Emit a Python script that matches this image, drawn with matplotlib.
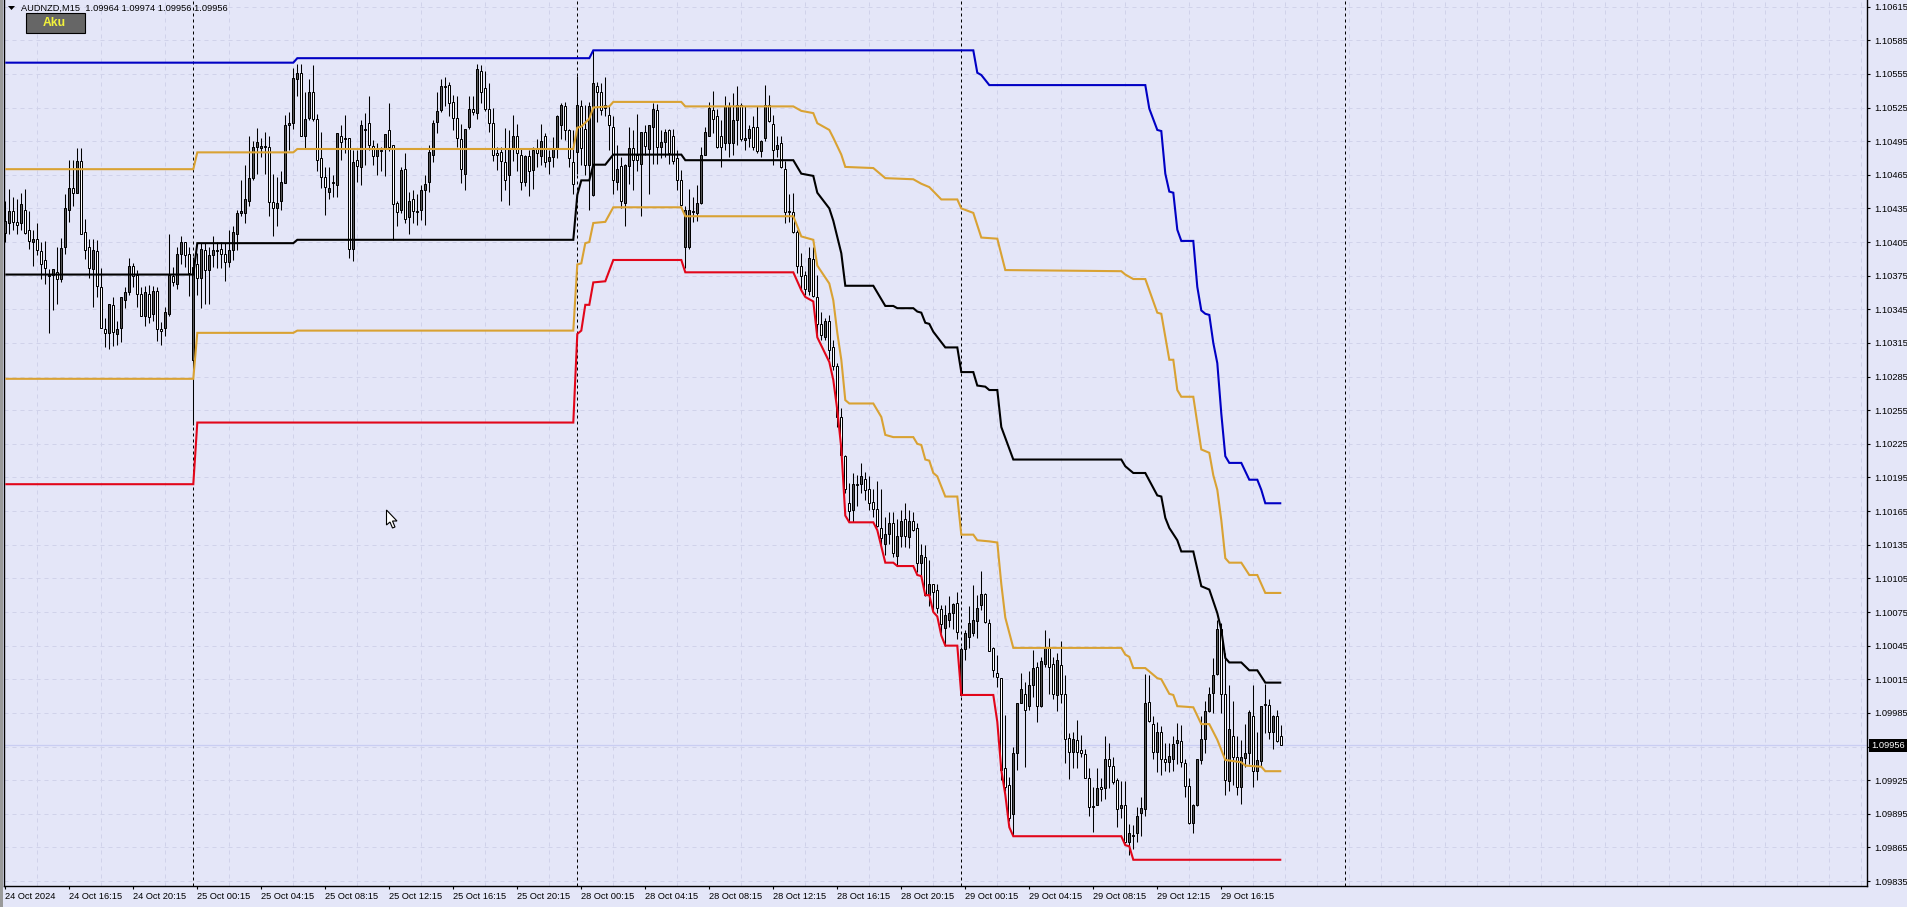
import numpy as np
import matplotlib
matplotlib.use('Agg')
import matplotlib.pyplot as plt
from matplotlib.patches import Rectangle, Polygon
from matplotlib.ticker import FixedLocator, FormatStrFormatter

plt.rcParams['font.family'] = ['Liberation Sans', 'DejaVu Sans']

# all prices below are in points above 1.09000, so 1408 means 1.10408
BASE = 1.09

highs = [1442,1452,1445,1443,1449,1452,1433,1416,1422,1405,
    1406,1381,1381,1401,1409,1448,1478,1478,1489,1489,
    1426,1408,1408,1407,1382,1337,1350,1356,1335,1356,
    1365,1391,1386,1380,1365,1366,1367,1366,1365,1334,
    1347,1412,1383,1401,1410,1405,1401,1392,
    1395,1404,1404,1401,1410,1405,1405,1404,1416,1419,
    1434,1460,1474,1500,1495,1507,1498,1503,1500,1466,
    1463,1468,1518,1521,1560,1564,1564,1539,1550,1563,
    1519,1503,1472,1472,1465,1502,1509,1518,1498,1487,
    1487,1514,1520,1535,1496,1493,1490,1501,1529,1492,
    1442,1472,1484,1450,1451,1448,1456,1465,1492,1514,
    1539,1550,1552,1548,1536,1535,1510,1506,1535,1535,
    1564,1563,1558,1547,1525,1490,1490,1507,1505,1518,
    1510,1489,1483,1487,1490,1497,1510,1502,1487,1499,
    1518,1529,1530,1506,1505,1553,1532,1527,1530,1576,
    1548,1547,1552,1527,1517,1492,1481,1475,1508,1505,
    1519,1503,1509,1509,1529,1528,1505,1506,1506,1506,
    1487,1469,1437,1452,1445,1456,1490,1508,1530,1540,
    1524,1514,1535,1530,1538,1544,1529,1526,1509,1517,
    1526,1496,1545,1536,1518,1500,1500,1477,1448,1449,
    1416,1395,1379,1401,1401,1376,1343,1337,1340,1318,
    1297,1257,1215,1190,1199,1197,1208,1200,1196,1185,
    1192,1185,1160,1164,1164,1158,1166,1172,1166,1164,
    1154,1136,1135,1121,1100,1100,1081,1081,1089,1083,
    1093,
    1044,1059,1080,1099,1090,1112,1092,1069,1044,1037,
    1016,983,928,955,994,1021,1013,1022,1041,1030,
    1035,1059,1052,1035,1038,1049,1019,967,968,979,
    965,953,936,919,936,927,964,958,946,927,
    924,924,886,885,901,910,1020,1019,982,977,
    973,958,958,964,976,974,944,927,904,944,
    982,996,1008,1034,1068,1065,1038,1010,996,964,
    961,975,988,1010,968,991,1011,997,983,988,974]

lows = [1405,1412,1416,1412,1416,1412,1399,1384,1393,1372,
    1368,1324,1344,1350,1369,1394,1423,1437,1449,1412,
    1390,1373,1347,1356,1328,1311,1310,1312,1313,1316,
    1346,1358,1365,1347,1339,1330,1333,1335,1317,1313,
    1321,1339,1366,1363,1385,1383,1357,1242,
    1358,1346,1350,1350,1383,1382,1382,1370,1383,1389,
    1398,1428,1422,1437,1460,1466,1481,1466,1428,1410,
    1419,1434,1458,1487,1506,1535,1500,1489,1514,1513,
    1468,1453,1429,1443,1445,1445,1478,1484,1391,1388,
    1459,1456,1474,1487,1474,1465,1468,1464,1486,1407,
    1419,1431,1422,1412,1422,1420,1425,1420,1450,1476,
    1502,1521,1526,1517,1505,1490,1458,1451,1506,1518,
    1515,1529,1522,1503,1477,1469,1442,1451,1438,1477,
    1468,1451,1455,1446,1452,1472,1474,1472,1466,1472,
    1480,1497,1496,1472,1448,1466,1474,1465,1434,1446,
    1512,1518,1517,1487,1448,1451,1435,1419,1457,1451,
    1468,1428,1483,1448,1475,1475,1480,1481,1475,1475,
    1451,1437,1382,1399,1423,1424,1439,1484,1500,1502,
    1489,1472,1487,1481,1483,1492,1495,1487,1490,1487,
    1484,1481,1495,1512,1474,1481,1471,1422,1423,1413,
    1377,1362,1358,1358,1356,1321,1318,1318,1301,1291,
    1240,1213,1181,1155,1155,1170,1181,1175,1166,1160,
    1151,1132,1126,1136,1124,1117,1133,1133,1132,1147,
    1111,1108,1089,1080,1077,1074,1056,1045,1062,1060,
    1051,
    1000,1032,1043,1054,1052,1077,1065,1040,1017,1008,
    925,915,889,876,934,994,937,988,999,977,
    990,1026,1002,997,987,994,940,926,936,936,
    946,927,893,879,903,906,908,918,922,883,
    891,869,858,864,870,875,893,977,944,932,
    930,933,932,933,939,937,910,886,878,902,
    939,949,986,985,1019,985,912,915,921,912,
    904,937,939,919,925,938,967,962,953,959,956]

opens = [1413,1422,1433,1423,1422,1434,1416,1405,1408,1397,
    1389,1375,1376,1378,1372,1401,1434,1453,1449,1477,
    1414,1401,1381,1397,1365,1327,1324,1349,1323,1328,
    1353,1360,1384,1376,1359,1339,1359,1341,1361,1327,
    1328,1341,1375,1368,1394,1405,1394,1300,
    1385,1373,1398,1380,1393,1397,1399,1394,1387,1398,
    1412,1431,1431,1442,1462,1490,1489,1490,1490,1441,
    1435,1442,1458,1509,1511,1550,1556,1500,1516,1539,
    1515,1480,1463,1450,1459,1456,1500,1497,1498,1399,
    1478,1472,1505,1511,1491,1482,1487,1489,1505,1492,
    1440,1434,1470,1427,1443,1433,1434,1451,1459,1483,
    1512,1523,1544,1545,1530,1516,1497,1466,1508,1524,
    1520,1558,1542,1524,1511,1484,1485,1476,1465,1488,
    1500,1483,1459,1482,1469,1488,1482,1500,1477,1481,
    1489,1509,1526,1505,1476,1485,1526,1506,1474,1447,
    1544,1539,1525,1518,1508,1459,1473,1440,1473,1489,
    1483,1475,1503,1488,1508,1523,1490,1494,1505,1500,
    1480,1460,1401,1401,1432,1431,1440,1483,1500,1523,
    1517,1500,1493,1493,1493,1514,1527,1496,1498,1508,
    1508,1486,1498,1527,1510,1488,1493,1470,1433,1432,
    1414,1384,1376,1361,1390,1356,1332,1320,1335,1311,
    1294,1249,1214,1172,1166,1189,1189,1194,1185,1173,
    1167,1150,1136,1145,1154,1125,1143,1158,1142,1156,
    1150,1119,1124,1090,1100,1095,1078,1061,1068,1074,
    1083,
    1001,1042,1053,1056,1067,1081,1091,1065,1043,1021,
    1016,936,921,895,949,994,1002,991,1010,1026,
    991,1029,1043,1029,1001,1028,1002,963,950,961,
    952,948,927,901,903,919,918,944,938,925,
    900,903,870,875,878,896,899,995,975,950,
    968,944,941,944,958,960,940,920,887,903,
    943,962,987,1003,1020,1060,1002,924,964,946,
    919,945,949,982,933,942,993,992,968,982,964]

closes = [1424,1433,1423,1420,1439,1413,1406,1408,1398,1385,
    1382,1376,1381,1372,1400,1435,1453,1449,1477,1412,
    1398,1382,1398,1366,1328,1324,1350,1325,1327,1356,
    1360,1384,1375,1359,1339,1360,1338,1361,1327,1326,
    1343,1376,1369,1394,1405,1393,1377,1383,
    1373,1399,1380,1393,1398,1398,1394,1387,1398,1414,
    1431,1433,1443,1462,1490,1494,1491,1491,1441,1435,
    1440,1459,1509,1511,1551,1556,1500,1515,1539,1515,
    1478,1463,1454,1453,1458,1502,1494,1498,1399,1476,
    1473,1509,1506,1492,1482,1488,1486,1501,1490,1439,
    1432,1469,1426,1442,1433,1432,1451,1457,1485,1511,
    1522,1544,1543,1529,1516,1498,1470,1506,1524,1521,
    1559,1539,1524,1511,1483,1483,1477,1460,1488,1500,
    1484,1459,1482,1468,1487,1484,1495,1476,1481,1489,
    1517,1527,1505,1480,1457,1527,1489,1474,1526,1547,
    1539,1523,1527,1509,1460,1470,1442,1474,1489,1478,
    1478,1503,1491,1509,1524,1490,1494,1503,1484,1477,
    1460,1438,1434,1434,1433,1440,1483,1503,1525,1515,
    1490,1490,1526,1526,1514,1527,1497,1498,1506,1490,
    1486,1495,1527,1513,1487,1492,1472,1432,1432,1414,
    1384,1375,1363,1391,1357,1332,1322,1335,1309,1294,
    1249,1215,1185,1165,1189,1188,1196,1184,1172,1167,
    1152,1141,1145,1154,1128,1143,1156,1143,1156,1148,
    1119,1126,1090,1100,1093,1079,1064,1072,1074,1082,
    1057,
    1042,1056,1065,1068,1079,1091,1066,1040,1023,1017,
    934,919,891,949,994,1006,988,1010,1025,991,
    1031,1043,1026,1002,1032,1002,962,950,962,950,
    949,927,901,902,918,917,944,938,923,899,
    903,870,878,876,893,900,994,978,950,968,
    944,941,947,957,961,941,920,887,903,944,
    962,987,1002,1019,1060,1002,925,971,946,919,
    946,949,986,933,943,991,992,968,982,960,956]

blue_bars = [0,72,73,146,147,242,243,244,246,285,286,288,289,290,291,292,293,294,297,298,299,300,301,302,303,304,305,306,309,311,313,314,315,319]
blue_vals = [1565,1565,1569,1569,1576,1576,1556,1554,1545,1545,1524,1505,1504,1466,1450,1449,1416,1406,1406,1365,1344,1341,1340,1315,1297,1252,1214,1208,1208,1193,1193,1184,1172,1172]

upper_bars = [0,47,48,72,73,142,143,144,146,147,151,152,169,170,197,199,202,203,206,207,209,210,217,220,227,229,231,234,238,239,242,244,248,250,279,280,282,285,288,289,291,292,293,294,297,299,301,302,303,304,305,306,309,311,313,315,319]
upper_vals = [1470,1470,1485,1485,1488,1488,1507,1508,1515,1525,1526,1530,1530,1526,1526,1522,1520,1511,1505,1498,1483,1472,1471,1462,1461,1457,1454,1443,1443,1435,1431,1409,1408,1380,1379,1376,1372,1372,1342,1341,1300,1300,1273,1267,1267,1220,1217,1197,1184,1157,1123,1119,1119,1108,1108,1092,1092]

mid_bars = [0,47,48,72,73,142,143,144,146,147,150,152,169,170,197,199,202,203,206,207,209,210,217,220,222,223,227,228,229,230,231,232,235,238,239,242,243,245,246,248,249,252,279,280,282,285,288,289,290,291,293,294,297,299,301,303,304,305,306,309,311,313,315,319]
mid_vals = [1376,1376,1404,1404,1407,1407,1447,1460,1460,1474,1474,1483,1483,1478,1478,1466,1464,1449,1435,1424,1395,1366,1366,1348,1348,1346,1346,1343,1342,1333,1332,1325,1311,1311,1289,1289,1277,1276,1273,1273,1240,1211,1211,1205,1199,1199,1179,1178,1159,1150,1139,1129,1129,1098,1095,1074,1059,1034,1030,1030,1023,1023,1012,1012]

lower_bars = [0,47,48,72,73,142,143,144,145,146,147,150,152,169,170,197,199,202,203,206,207,208,209,210,211,217,219,220,222,227,228,229,230,231,232,233,235,238,239,242,243,246,248,249,250,252,279,280,281,282,285,288,289,291,292,293,297,299,301,303,305,309,310,314,315,319]
lower_vals = [1283,1283,1324,1324,1326,1326,1385,1386,1404,1405,1422,1423,1436,1436,1428,1428,1410,1407,1384,1368,1353,1324,1300,1264,1261,1261,1249,1233,1231,1231,1225,1224,1211,1210,1199,1196,1178,1178,1144,1144,1139,1138,1137,1100,1070,1043,1043,1037,1035,1025,1025,1016,1015,1002,1001,991,990,975,975,961,943,941,938,937,933,933]

red_bars = [0,47,48,142,143,144,145,146,147,150,152,169,170,197,199,200,202,203,206,207,208,209,210,211,217,218,220,222,223,227,228,229,230,231,232,233,234,235,238,239,247,248,249,250,251,252,279,280,281,282,319]
red_vals = [1189,1189,1244,1244,1323,1326,1349,1349,1369,1370,1389,1389,1378,1378,1362,1356,1352,1320,1298,1282,1255,1221,1161,1155,1155,1148,1119,1119,1116,1116,1108,1107,1090,1090,1075,1071,1054,1045,1045,1001,1001,977,934,912,883,875,875,867,866,854,854]

x_labels = ['24 Oct 2024','24 Oct 16:15','24 Oct 20:15','25 Oct 00:15','25 Oct 04:15',
    '25 Oct 08:15','25 Oct 12:15','25 Oct 16:15','25 Oct 20:15','28 Oct 00:15',
    '28 Oct 04:15','28 Oct 08:15','28 Oct 12:15','28 Oct 16:15','28 Oct 20:15',
    '29 Oct 00:15','29 Oct 04:15','29 Oct 08:15','29 Oct 12:15','29 Oct 16:15']
day_breaks = [47,143,239,335]
last_price = 1.09956
y_ticks = [1.09835 + 0.0003*k for k in range(27)]

W, H = 1907, 907
BG = '#e4e6f8'
GRID = '#d0d2ea'
SIZE = 6.7

fig = plt.figure(figsize=(W/100, H/100), dpi=100, facecolor=BG)
ax = fig.add_axes([4/W, 1-886/H, (1867-4)/W, 886/H], facecolor=BG)

o = BASE + np.array(opens)/1e5
h = BASE + np.array(highs)/1e5
l = BASE + np.array(lows)/1e5
c = BASE + np.array(closes)/1e5
bars = np.arange(len(o))
up = c > o

ax.set_xlim((4-5.3)/4, (1867-5.3)/4)
ax.set_ylim(BASE + 830.6/1e5, BASE + 1620.9/1e5)

ax.set_xticks(np.arange(len(x_labels))*16)
ax.set_xticklabels(x_labels, ha='left', fontsize=SIZE, color='black')
ax.xaxis.set_minor_locator(FixedLocator(np.arange(0, 466, 8)))
ax.yaxis.tick_right()
ax.set_yticks(y_ticks)
ax.yaxis.set_major_formatter(FormatStrFormatter('%.5f'))
ax.tick_params(axis='y', length=2.5, width=0.8, pad=2.5, labelsize=SIZE)
ax.tick_params(axis='x', which='major', length=2.5, width=0.8, pad=1.5)
ax.tick_params(axis='x', which='minor', length=0)
for t in ax.get_xticklabels():
    t.set_x(t.get_position()[0])
ax.grid(True, axis='y', color=GRID, lw=0.72, ls=(0, (4, 4)), zorder=0)
ax.grid(True, axis='x', which='minor', color=GRID, lw=0.72, ls=(0, (4, 4)), zorder=0)
ax.set_axisbelow(True)
ax.spines['top'].set_visible(False)
for s in ['left', 'right', 'bottom']:
    ax.spines[s].set_linewidth(1.0)

ax.axhline(last_price, color='#c9cdf2', lw=0.9, zorder=1)
for d in day_breaks:
    ax.axvline(d, color='black', lw=0.72, ls=(0, (3, 3)), zorder=1)

ax.vlines(bars, l, h, color='black', lw=0.75, zorder=2)
ax.bar(bars, np.abs(c-o), bottom=np.minimum(o, c), width=0.5,
       color=np.where(up, '#555555', 'white'), edgecolor='black', linewidth=0.72, zorder=3)

def band(xs, vals, col):
    ax.plot(xs, BASE + np.array(vals)/1e5, color=col, lw=1.5, zorder=4,
            solid_joinstyle='miter', solid_capstyle='butt')

band(blue_bars, blue_vals, '#0000c4')
band(upper_bars, upper_vals, '#d9a233')
band(mid_bars, mid_vals, 'black')
band(lower_bars, lower_vals, '#d9a233')
band(red_bars, red_vals, '#e2061a')

# price box on the scale
ax.text(1.0022, last_price, '%.5f' % last_price, transform=ax.get_yaxis_transform(),
        ha='left', va='center', color='white', fontsize=SIZE, zorder=6,
        bbox=dict(boxstyle='square,pad=0.25', fc='black', ec='black', lw=0))

# window furniture, placed in pixels
def px(x, y):
    return x/W, 1-y/H

fig.patches.append(Rectangle(px(0, 907), 3/W, 1, transform=fig.transFigure, fc='#9a9a9a', ec='none'))
fig.patches.append(Polygon([px(8, 6), px(15, 6), px(11.5, 10)], transform=fig.transFigure, fc='black', ec='none'))
fig.text(*px(21, 8), 'AUDNZD,M15  1.09964 1.09974 1.09956 1.09956', fontsize=SIZE, va='center', ha='left')
fig.patches.append(Rectangle(px(25.5, 32.5), 59/W, 19.5/H, transform=fig.transFigure, fc='#666666', ec='black', lw=0.8))
fig.text(*px(54, 23.5), 'Aku', fontsize=8.7, fontweight='bold', color='#f2f23c', va='center', ha='center')
tip = (386.5, 510)
arrow = [(0, 0), (0, 15), (3.5, 12), (6, 18), (8.5, 17), (6, 11), (10.5, 11)]
fig.patches.append(Polygon([px(tip[0]+a, tip[1]+b) for a, b in arrow], transform=fig.transFigure,
                           fc='white', ec='black', lw=0.8, zorder=10))

fig.savefig('out.png', dpi=100)
